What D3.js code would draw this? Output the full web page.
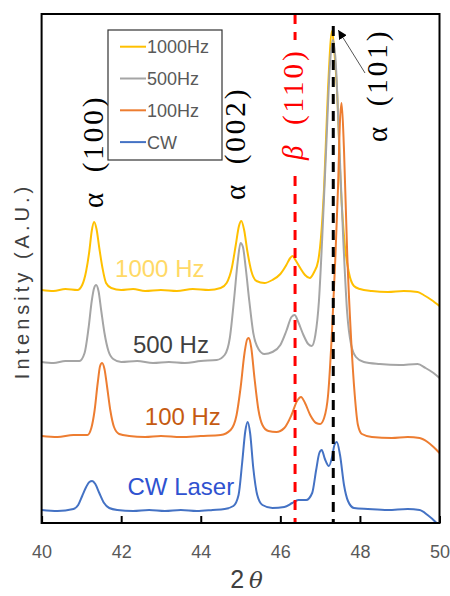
<!DOCTYPE html>
<html>
<head>
<meta charset="utf-8">
<script src="https://cdn.jsdelivr.net/npm/d3@7"></script>
<style>
  body { margin: 0; background: #fff; }
  svg { display: block; }
</style>
</head>
<body>
<div id="chart"></div>
<script>
// XRD patterns, [2theta, intensity (a.u.)]
const hz1000 = [[40.0,233],[40.3,232],[40.6,234],[40.9,233],[41.02,238],[41.12,252],[41.2,272],[41.26,292],[41.32,301],[41.38,294],[41.45,275],[41.53,255],[41.62,240],[41.75,235],[42.0,233],[42.3,234],[42.6,232],[43.0,233],[43.4,232],[43.8,234],[44.2,233],[44.5,235],[44.65,240],[44.78,255],[44.88,278],[44.96,297],[45.02,302],[45.09,293],[45.17,272],[45.27,252],[45.4,242],[45.6,240],[45.8,243],[46.0,249],[46.15,258],[46.25,265],[46.31,267],[46.38,263],[46.5,255],[46.62,248],[46.74,245],[46.85,251],[46.95,262],[47.02,285],[47.1,336],[47.2,436],[47.3,492],[47.36,470],[47.42,436],[47.52,336],[47.62,278],[47.72,251],[47.85,237],[48.0,234],[48.3,232],[48.7,231],[49.1,232],[49.45,231],[49.6,228],[49.8,223],[50.0,217]];
const hz500 = [[40.0,161],[40.3,160],[40.6,162],[40.95,162],[41.08,170],[41.18,195],[41.26,222],[41.32,235],[41.37,238],[41.43,232],[41.5,212],[41.58,190],[41.68,172],[41.8,164],[42.0,161],[42.4,162],[42.8,160],[43.2,161],[43.6,160],[44.0,162],[44.4,163],[44.6,168],[44.73,185],[44.84,225],[44.93,262],[45.0,280],[45.06,276],[45.13,255],[45.22,222],[45.32,190],[45.45,174],[45.6,169],[45.8,171],[46.0,178],[46.15,192],[46.28,206],[46.36,208],[46.45,201],[46.58,188],[46.7,179],[46.79,177],[46.88,188],[46.97,222],[47.05,283],[47.15,373],[47.25,460],[47.32,483],[47.39,462],[47.48,380],[47.58,285],[47.68,210],[47.78,178],[47.9,166],[48.1,161],[48.5,159],[49.0,158],[49.45,159],[49.65,155],[49.85,150],[50.0,145]];
const hz100 = [[40.0,87],[40.4,86],[40.8,88],[41.15,88],[41.25,95],[41.33,112],[41.41,140],[41.47,157],[41.52,160],[41.58,154],[41.65,135],[41.73,112],[41.82,96],[41.95,89],[42.2,87],[42.6,86],[43.0,87],[43.5,86],[44.0,87],[44.5,88],[44.75,93],[44.9,108],[45.0,135],[45.1,170],[45.17,184],[45.21,185],[45.27,175],[45.35,145],[45.45,113],[45.55,98],[45.7,92],[45.9,91],[46.1,95],[46.28,108],[46.42,122],[46.52,126],[46.62,120],[46.75,108],[46.9,100],[47.0,99],[47.1,105],[47.2,128],[47.3,193],[47.38,263],[47.45,336],[47.5,403],[47.54,420],[47.6,373],[47.68,270],[47.78,183],[47.87,128],[47.95,98],[48.05,89],[48.3,86],[48.8,85],[49.2,86],[49.5,85],[49.7,81],[49.85,76],[50.0,70]];
const cw = [[40.0,13],[40.4,12],[40.8,14],[40.92,18],[41.02,27],[41.12,36],[41.2,41],[41.27,42],[41.35,39],[41.45,30],[41.57,20],[41.7,15],[41.9,13],[42.3,12],[42.7,13],[43.1,12],[43.5,13],[43.9,12],[44.3,13],[44.6,14],[44.82,17],[44.95,28],[45.04,60],[45.12,92],[45.18,101],[45.24,90],[45.32,55],[45.42,28],[45.55,18],[45.8,15],[46.1,16],[46.3,20],[46.45,23],[46.65,23],[46.8,30],[46.9,53],[46.98,70],[47.04,73],[47.12,64],[47.22,57],[47.3,66],[47.36,78],[47.42,81],[47.5,68],[47.6,38],[47.7,22],[47.85,15],[48.2,14],[48.7,13],[49.2,14],[49.5,13],[49.7,8],[49.9,1],[50.0,-4]];

const seriesNames = ["1000Hz", "500Hz", "100Hz", "CW"];
const seriesData = [hz1000, hz500, hz100, cw];
const seriesColors = ["#FFC000", "#A5A5A5", "#ED7D31", "#4472C4"];

// text next to each curve
const curveLabels = ["1000 Hz", "500 Hz", "100 Hz", "CW Laser"];
const curveLabelColors = ["#FFD966", "#404040", "#C55A11", "#2F52D0"];

// peak positions (2theta)
const betaLine = 46.37;
const alphaLine = 47.33;
const xTicks = [40, 42, 44, 46, 48, 50];

// set the dimensions and margins of the graph
const W = 450, H = 596;
const margin = { top: 14, right: 10.5, bottom: 73, left: 41.6 },
    width = W - margin.left - margin.right,
    height = H - margin.top - margin.bottom;

const svg = d3.select("#chart")
    .append("svg")
    .attr("width", W)
    .attr("height", H);

const g = svg.append("g")
    .attr("transform", `translate(${margin.left},${margin.top})`);

const x = d3.scaleLinear().domain([40, 50]).range([0, width]);
const y = d3.scaleLinear().domain([0, 509]).range([height, 0]);

g.append("clipPath").attr("id", "clip")
    .append("rect").attr("width", width).attr("height", height);

// curves
const line = d3.line()
    .x(d => x(d[0]))
    .y(d => y(d[1]))
    .curve(d3.curveMonotoneX);

g.append("g").attr("clip-path", "url(#clip)")
    .selectAll("path")
    .data(seriesData)
    .join("path")
    .attr("fill", "none")
    .attr("stroke", (d, i) => seriesColors[i])
    .attr("stroke-width", 2)
    .attr("stroke-linejoin", "round")
    .attr("d", line);

// reference lines
g.append("line")
    .attr("x1", x(betaLine)).attr("x2", x(betaLine))
    .attr("y1", 0).attr("y2", height)
    .attr("stroke", "#FF0000").attr("stroke-width", 3)
    .attr("stroke-dasharray", "10,8");
g.append("line")
    .attr("x1", x(alphaLine)).attr("x2", x(alphaLine))
    .attr("y1", 12).attr("y2", height)
    .attr("stroke", "#000").attr("stroke-width", 3)
    .attr("stroke-dasharray", "10,7");

// x axis, ticks pointing inward
const xAxis = g.append("g")
    .attr("transform", `translate(0,${height})`)
    .call(d3.axisBottom(x).tickValues(xTicks).tickSizeInner(-7).tickSizeOuter(0).tickPadding(22));
xAxis.select(".domain").remove();
xAxis.selectAll(".tick line").attr("stroke", "#000").attr("stroke-width", 2);
xAxis.selectAll("text")
    .attr("font-family", "Liberation Sans, Arial, sans-serif")
    .attr("font-size", 18)
    .attr("fill", "#595959");

// frame
g.append("rect")
    .attr("width", width).attr("height", height)
    .attr("fill", "none").attr("stroke", "#000").attr("stroke-width", 2);

// axis titles
svg.append("text")
    .attr("transform", "translate(29,281) rotate(-90)")
    .attr("text-anchor", "middle")
    .attr("font-family", "Liberation Sans, Arial, sans-serif")
    .attr("font-size", 20)
    .attr("letter-spacing", 4)
    .attr("fill", "#404040")
    .text("Intensity (A.U.)");

const xt = svg.append("text")
    .attr("x", margin.left + x(45.15)).attr("y", 588)
    .attr("text-anchor", "middle")
    .attr("font-family", "Liberation Sans, Arial, sans-serif")
    .attr("font-size", 25)
    .attr("fill", "#404040");
xt.append("tspan").text("2\u2009");
xt.append("tspan").attr("font-style", "italic").attr("font-family", "DejaVu Serif, serif").attr("font-size", 23).text("θ");

// curve labels
const labelPos = [[42.97, 277], [43.25, 353], [43.55, 425], [43.5, 495]];
svg.selectAll(".clabel")
    .data(curveLabels)
    .join("text")
    .attr("class", "clabel")
    .attr("x", (d, i) => margin.left + x(labelPos[i][0]))
    .attr("y", (d, i) => labelPos[i][1])
    .attr("text-anchor", "middle")
    .attr("font-family", "Liberation Sans, Arial, sans-serif")
    .attr("font-size", 24)
    .attr("fill", (d, i) => curveLabelColors[i])
    .text(d => d);

// peak labels (rotated)
const peakLabels = [
    { s: "α", t: "(100)", at: 41.34, bottom: 208, color: "#000" },
    { s: "α", t: "(002)", at: 44.89, bottom: 200, color: "#000" },
    { s: "β", t: "(110)", at: 46.35, bottom: 160, color: "#FF0000" },
    { s: "α", t: "(101)", at: 48.46, bottom: 142, color: "#000" }
];
// white patch behind the beta label
svg.append("rect")
    .attr("x", margin.left + x(46.35) - 13).attr("y", 40)
    .attr("width", 26).attr("height", 128)
    .attr("fill", "#fff");
const pl = svg.selectAll(".plabel")
    .data(peakLabels)
    .join("text")
    .attr("class", "plabel")
    .attr("transform", d => `translate(${margin.left + x(d.at) + 8.5},${d.bottom}) rotate(-90)`)
    .attr("font-family", "Liberation Serif, serif")
    .attr("font-size", 29)
    .attr("letter-spacing", 3)
    .attr("fill", d => d.color);
pl.append("tspan")
    .attr("font-style", d => d.s === "β" ? "italic" : "normal")
    .text(d => d.s + "\u2002");
pl.append("tspan").text(d => d.t);

// arrow to alpha(101) peak
svg.append("defs").append("marker")
    .attr("id", "arr")
    .attr("viewBox", "0 0 10 10")
    .attr("refX", 10).attr("refY", 5)
    .attr("markerWidth", 9).attr("markerHeight", 9)
    .attr("markerUnits", "userSpaceOnUse")
    .attr("orient", "auto")
    .append("path").attr("d", "M0,0L10,5L0,10z").attr("fill", "#000");
svg.append("line")
    .attr("x1", 365).attr("y1", 73)
    .attr("x2", margin.left + x(alphaLine) + 5).attr("y2", 30)
    .attr("stroke", "#555").attr("stroke-width", 1)
    .attr("marker-end", "url(#arr)");

// legend
const lg = svg.append("g").attr("transform", "translate(108,30)");
lg.append("rect")
    .attr("width", 114).attr("height", 130)
    .attr("fill", "#fff").attr("stroke", "#333").attr("stroke-width", 1.2);
const items = lg.selectAll(".item")
    .data(seriesNames)
    .join("g")
    .attr("transform", (d, i) => `translate(0,${16.7 + i * 31.8})`);
items.append("line")
    .attr("x1", 12).attr("x2", 38)
    .attr("stroke", (d, i) => seriesColors[i]).attr("stroke-width", 2);
items.append("text")
    .attr("x", 39).attr("y", 6.5)
    .attr("font-family", "Liberation Sans, Arial, sans-serif")
    .attr("font-size", 18)
    .attr("fill", "#595959")
    .text(d => d);
</script>
</body>
</html>
